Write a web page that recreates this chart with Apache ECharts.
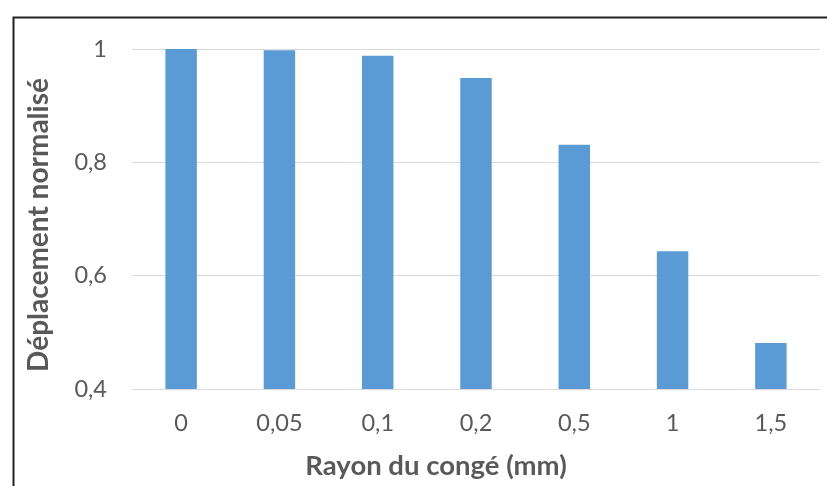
<!DOCTYPE html>
<html>
<head>
<meta charset="utf-8">
<script src="https://cdn.jsdelivr.net/npm/echarts@6/dist/echarts.min.js"></script>
<style>html,body{margin:0;padding:0;background:#fff;}#c{width:827px;height:486px;}</style>
</head>
<body>
<div id="c"></div>
<script>
var categories = ['0', '0,05', '0,1', '0,2', '0,5', '1', '1,5'];
var values = [1.0, 0.998, 0.988, 0.949, 0.831, 0.643, 0.481];
var yTicks = [0.4, 0.6, 0.8, 1.0];
var xTitle = 'Rayon du congé (mm)';
var yTitle = 'Déplacement normalisé';

var chart = echarts.init(document.getElementById('c'), null, {renderer: 'canvas'});
var font = 'Lato, "Open Sans", sans-serif';
chart.setOption({
  animation: false,
  backgroundColor: '#ffffff',
  graphic: [{
    type: 'rect', left: 11, top: 15, z: 100, silent: true,
    shape: {width: 900, height: 600},
    style: {fill: 'none', stroke: '#222222', lineWidth: 2}
  }],
  grid: {left: 132, right: 7, top: 49, bottom: 97},
  xAxis: {
    type: 'category', data: categories,
    name: xTitle, nameLocation: 'middle', nameGap: 63,
    nameTextStyle: {fontFamily: font, fontSize: 27.5, fontWeight: 'bold', color: '#595959', padding: [0, 80, 0, 0]},
    axisLine: {show: true, lineStyle: {color: '#d9d9d9', width: 1}},
    axisTick: {show: false},
    axisLabel: {fontFamily: font, fontSize: 23.5, color: '#595959', margin: 22}
  },
  yAxis: {
    type: 'value', min: 0.4, max: 1.0, interval: 0.2,
    name: yTitle, nameLocation: 'middle', nameGap: 79,
    nameTextStyle: {fontFamily: font, fontSize: 28, fontWeight: 'bold', color: '#595959', padding: [0, 12, 0, 0]},
    axisLine: {show: false}, axisTick: {show: false},
    splitLine: {lineStyle: {color: '#d9d9d9', width: 1}},
    axisLabel: {fontFamily: font, fontSize: 23.5, color: '#595959', margin: 25,
      formatter: function (v) {
        for (var i = 0; i < yTicks.length; i++) {
          if (Math.abs(yTicks[i] - v) < 1e-9) return (Math.round(v * 10) / 10).toString().replace('.', ',');
        }
        return '';
      }}
  },
  series: [{
    type: 'bar', data: values, barWidth: '32%',
    itemStyle: {color: '#5b9bd5'}
  }]
});
</script>
</body>
</html>
